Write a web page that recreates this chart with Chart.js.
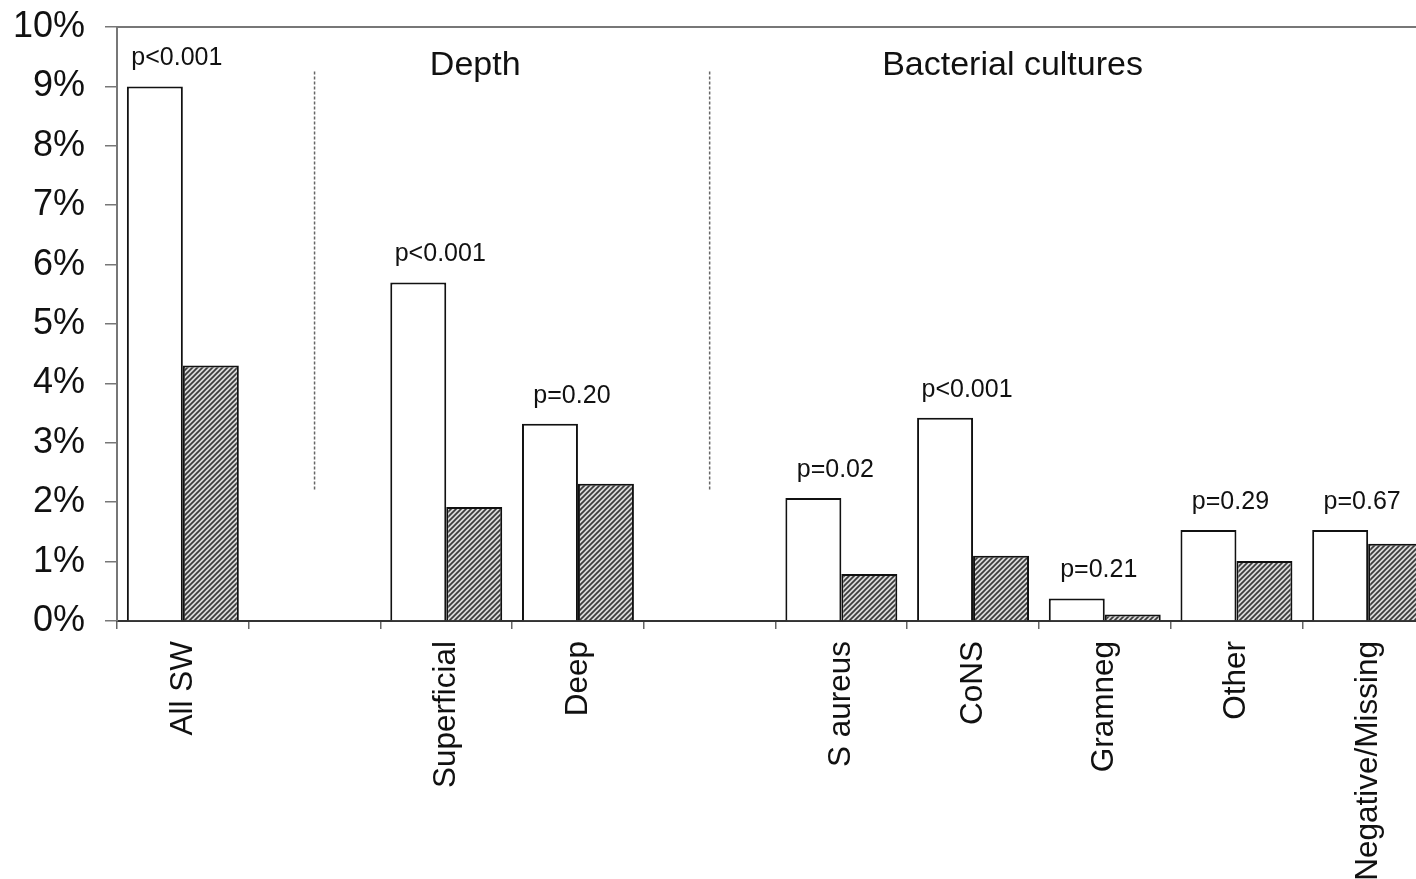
<!DOCTYPE html>
<html>
<head>
<meta charset="utf-8">
<script src="https://cdn.jsdelivr.net/npm/chart.js@4/dist/chart.umd.min.js"></script>
<style>
  html, body { margin: 0; padding: 0; background: #fff; overflow: hidden; }
  #wrap { width: 1416px; height: 879px; overflow: hidden; }
</style>
</head>
<body>
<div id="wrap"><canvas id="chart" width="1450" height="879"></canvas></div>
<script>
// ================== Data ==================
const categories = ["All SW", "", "Superficial", "Deep", "", "S aureus", "CoNS", "Gramneg", "Other", "Negative/Missing"];
const openValues = [9.0, null, 5.7, 3.32, null, 2.07, 3.42, 0.38, 1.53, 1.53];
const hatchValues = [4.3, null, 1.92, 2.31, null, 0.79, 1.1, 0.11, 1.01, 1.3];
const pLabels = ["p<0.001", "", "p<0.001", "p=0.20", "", "p=0.02", "p<0.001", "p=0.21", "p=0.29", "p=0.67"];
const yTicks = [0, 1, 2, 3, 4, 5, 6, 7, 8, 9, 10];

// section headings and dividers (x in category units, y in %)
const sectionNames = ["Depth", "Bacterial cultures"];
const sectionX = [2.22, 6.3];
const sectionY = 9.35;
const dividerX = [1, 4];
const dividerRange = [2.2, 9.25];

const FONT = "'Liberation Sans', Arial, sans-serif";

// ================== Hatch pattern ==================
function makeHatch() {
  const c = document.createElement("canvas");
  c.width = 5; c.height = 5;
  const g = c.getContext("2d");
  g.fillStyle = "#d8d8d8";
  g.fillRect(0, 0, 5, 5);
  g.strokeStyle = "#3a3a3a";
  g.lineWidth = 1.7;
  g.beginPath();
  g.moveTo(-1, 6); g.lineTo(6, -1);
  g.moveTo(-1, 1); g.lineTo(1, -1);
  g.moveTo(4, 6); g.lineTo(6, 4);
  g.stroke();
  return document.getElementById("chart").getContext("2d").createPattern(c, "repeat");
}

// ================== Extras drawn on top ==================
const extras = {
  id: "extras",
  afterDatasetsDraw(chart) {
    const ctx = chart.ctx;
    const x = chart.scales.x, y = chart.scales.y;
    const area = chart.chartArea;
    const step = x.getPixelForValue(1) - x.getPixelForValue(0);
    ctx.save();

    // top frame line
    ctx.strokeStyle = "#777";
    ctx.lineWidth = 2;
    ctx.beginPath();
    ctx.moveTo(area.left, area.top);
    ctx.lineTo(area.right, area.top);
    ctx.stroke();

    // dashed dividers
    ctx.strokeStyle = "#666";
    ctx.lineWidth = 1.5;
    ctx.setLineDash([3, 2]);
    dividerX.forEach(v => {
      const px = x.getPixelForValue(v);
      ctx.beginPath();
      ctx.moveTo(px, y.getPixelForValue(dividerRange[1]));
      ctx.lineTo(px, y.getPixelForValue(dividerRange[0]));
      ctx.stroke();
    });
    ctx.setLineDash([]);

    // section headings
    ctx.fillStyle = "#111";
    ctx.textAlign = "center";
    ctx.textBaseline = "middle";
    ctx.font = "34px " + FONT;
    sectionNames.forEach((t, i) => {
      const px = x.getPixelForValue(0) + sectionX[i] * step;
      ctx.fillText(t, px, y.getPixelForValue(sectionY));
    });

    // p-values above each group
    ctx.font = "25px " + FONT;
    pLabels.forEach((t, i) => {
      if (!t) return;
      const px = x.getPixelForValue(i) - 6;
      const py = y.getPixelForValue(openValues[i]) - 28;
      ctx.fillText(t, px, py);
    });
    ctx.restore();
  }
};

// ================== Chart ==================
const hatch = makeHatch();

new Chart(document.getElementById("chart"), {
  type: "bar",
  data: {
    labels: categories,
    datasets: [
      {
        label: "Series 1",
        data: openValues,
        backgroundColor: "#fff",
        borderColor: "#111",
        borderWidth: 2,
        borderSkipped: "bottom",
        categoryPercentage: 0.85,
        barPercentage: 1.0
      },
      {
        label: "Series 2",
        data: hatchValues,
        backgroundColor: hatch,
        borderColor: "#111",
        borderWidth: 2,
        borderSkipped: "bottom",
        categoryPercentage: 0.85,
        barPercentage: 1.0
      }
    ]
  },
  options: {
    responsive: false,
    animation: false,
    layout: { padding: { left: 0, right: 16, top: 27, bottom: 0 } },
    plugins: {
      legend: { display: false },
      tooltip: { enabled: false }
    },
    scales: {
      x: {
        offset: true,
        border: { color: "#333", width: 2 },
        grid: { offset: true, drawOnChartArea: false, drawTicks: true, tickLength: 8, color: "#666", lineWidth: 1.5 },
        ticks: {
          autoSkip: false,
          minRotation: 90,
          maxRotation: 90,
          padding: 12,
          color: "#111",
          font: { family: FONT, size: 31.5 }
        },
        afterFit: s => { s.height = 258; s.paddingLeft = 0; s.paddingRight = 0; }
      },
      y: {
        min: 0,
        max: 10,
        border: { color: "#777", width: 2 },
        grid: { drawOnChartArea: false, drawTicks: true, tickLength: 12, color: "#777", lineWidth: 1.5 },
        afterBuildTicks: s => { s.ticks = yTicks.map(v => ({ value: v })); },
        ticks: {
          padding: 20,
          color: "#111",
          font: { family: FONT, size: 36 },
          callback: v => v + "%"
        },
        afterFit: s => { s.width = 117; s.paddingTop = 0; s.paddingBottom = 0; }
      }
    }
  },
  plugins: [extras]
});
</script>
</body>
</html>
